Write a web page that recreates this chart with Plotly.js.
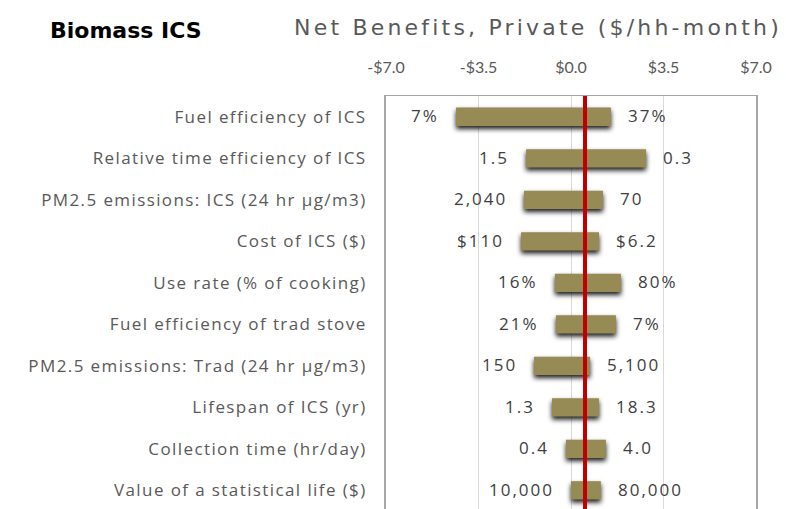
<!DOCTYPE html>
<html>
<head>
<meta charset="utf-8">
<script src="https://cdn.plot.ly/plotly-3.0.1.min.js"></script>
<style>
  html, body { margin: 0; padding: 0; background: #ffffff; }
  #chart { width: 786px; height: 509px; }
  .barlayer .point path { filter: drop-shadow(0px 3px 2.5px rgba(0,0,0,0.9)); }
  .ytick text { letter-spacing: 1.4px; }
</style>
</head>
<body>
<div id="chart"></div>
<script>
// ---- data ----
const categories = [
  "Fuel efficiency of ICS",
  "Relative time efficiency of ICS",
  "PM2.5 emissions: ICS (24 hr µg/m3)",
  "Cost of ICS ($)",
  "Use rate (% of cooking)",
  "Fuel efficiency of trad stove",
  "PM2.5 emissions: Trad (24 hr µg/m3)",
  "Lifespan of ICS (yr)",
  "Collection time (hr/day)",
  "Value of a statistical life ($)"
];
const lowValues  = [-4.35, -1.70, -1.78, -1.89, -0.61, -0.57, -1.40, -0.72, -0.19, 0.00];
const highValues = [ 1.51,  2.84,  1.21,  1.06,  1.89,  1.70,  0.72,  1.06,  1.32, 1.13];
const leftLabels  = ["7%", "1.5", "2,040", "$110", "16%", "21%", "150", "1.3", "0.4", "10,000"];
const rightLabels = ["37%", "0.3", "70", "$6.2", "80%", "7%", "5,100", "18.3", "4.0", "80,000"];
const baseCase = 0.53;
const tickValues = [-7, -3.5, 0, 3.5, 7];
const tickLabels = ["-$7.0", "-$3.5", "$0.0", "$3.5", "$7.0"];
const chartTitle = "Net Benefits, Private ($/hh-month)";
const panelTitle = "Biomass ICS";

// ---- build ----
const spans = highValues.map((h, i) => h - lowValues[i]);

const barTrace = {
  type: 'bar',
  orientation: 'h',
  y: categories,
  x: spans,
  base: lowValues,
  width: 0.44,
  marker: { color: '#968a55', line: { width: 0 } },
  hoverinfo: 'skip',
  showlegend: false
};

const spaced = (t, px) => '<span style="letter-spacing:' + px + 'px">' + t + '</span>';
const labelFont = { family: 'Open Sans, Lato, sans-serif', size: 17, color: '#404040' };
const annotations = [];
categories.forEach((c, i) => {
  annotations.push({
    x: lowValues[i], y: c, xref: 'x', yref: 'y',
    text: spaced(leftLabels[i], 2), showarrow: false,
    xanchor: 'right', yanchor: 'middle', xshift: -15, yshift: 1,
    font: labelFont
  });
  annotations.push({
    x: highValues[i], y: c, xref: 'x', yref: 'y',
    text: spaced(rightLabels[i], 2), showarrow: false,
    xanchor: 'left', yanchor: 'middle', xshift: 15, yshift: 1,
    font: labelFont
  });
});

// title annotations positioned in pixels, converted to paper coords
const L = 386, R = 30, T = 96, B = 0, W = 786, H = 509;
const pw = W - L - R, ph = H - T - B;
const px2x = p => (p - L) / pw;
const px2y = p => 1 - (p - T) / ph;
annotations.push({
  x: px2x(538), y: px2y(27), xref: 'paper', yref: 'paper',
  xanchor: 'center', yanchor: 'middle',
  text: spaced(chartTitle, 3.2), showarrow: false,
  font: { family: 'DejaVu Sans, sans-serif', size: 22, color: '#595959' }
});
annotations.push({
  x: px2x(126), y: px2y(31), xref: 'paper', yref: 'paper',
  xanchor: 'center', yanchor: 'middle',
  text: '<b>' + panelTitle + '</b>', showarrow: false,
  font: { family: 'DejaVu Sans, sans-serif', size: 22, color: '#000000' }
});

const layout = {
  width: W, height: H,
  margin: { l: L, r: R, t: T, b: B, pad: 0 },
  paper_bgcolor: '#ffffff',
  plot_bgcolor: '#ffffff',
  barmode: 'overlay',
  showlegend: false,
  xaxis: {
    side: 'top',
    range: [-7, 7],
    tickvals: tickValues,
    ticktext: tickLabels,
    showgrid: true,
    gridcolor: '#d9d9d9',
    gridwidth: 1,
    zeroline: false,
    showline: true,
    linecolor: '#a6a6a6',
    linewidth: 1,
    mirror: true,
    ticks: '',
    ticklabelstandoff: 16,
    tickfont: { family: 'Lato, sans-serif', size: 16, color: '#595959' },
    fixedrange: true
  },
  yaxis: {
    type: 'category',
    categoryorder: 'array',
    categoryarray: categories,
    range: [9.45, -0.5],
    showgrid: false,
    zeroline: false,
    showline: true,
    linecolor: '#a6a6a6',
    linewidth: 2,
    mirror: true,
    ticks: '',
    ticklabelstandoff: 14,
    tickfont: { family: 'Open Sans, Lato, sans-serif', size: 17, color: '#595959' },
    fixedrange: true
  },
  shapes: [{
    type: 'line', xref: 'x', yref: 'paper',
    x0: baseCase, x1: baseCase, y0: 0, y1: 1,
    line: { color: '#c00000', width: 4 },
    layer: 'above'
  }],
  annotations: annotations
};

Plotly.newPlot('chart', [barTrace], layout, { displayModeBar: false, staticPlot: true });
</script>
</body>
</html>
